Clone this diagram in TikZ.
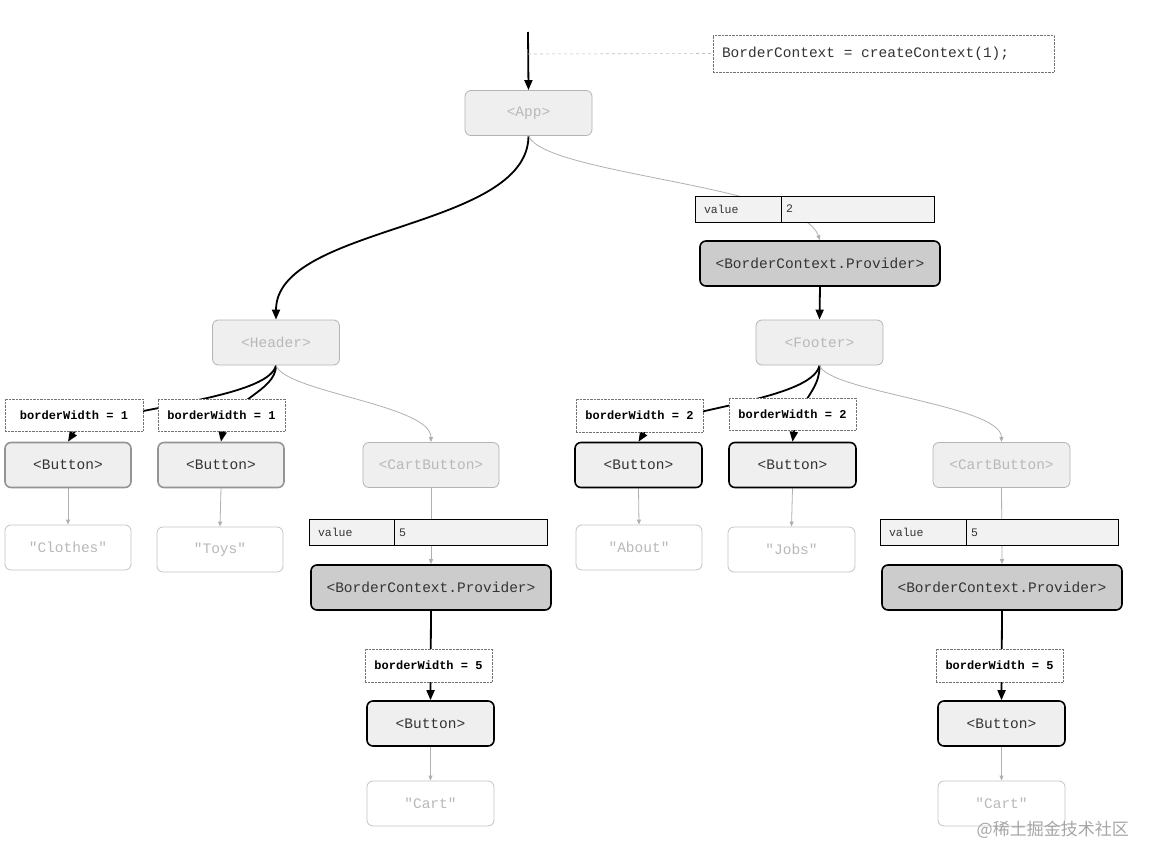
\documentclass[tikz,border=0pt]{standalone}
\usepackage{fontspec}
\setmonofont{Liberation Mono}
\newfontfamily\cjk{Noto Sans CJK SC}
\usetikzlibrary{arrows.meta}
\newcommand\msp{\hspace*{0.6em}}
\definecolor{nfill}{HTML}{EFEFEF}
\definecolor{fborder}{HTML}{B4B4B4}
\definecolor{ftext}{HTML}{B8B8B8}
\definecolor{dtext}{HTML}{333333}
\definecolor{pfill}{HTML}{CCCCCC}
\definecolor{vfill}{HTML}{F2F2F2}
\definecolor{sborder}{HTML}{C4C4C4}
\definecolor{gline}{HTML}{B0B0B0}
\pgfdeclarelayer{background}
\pgfsetlayers{background,main}
\begin{document}
\begin{tikzpicture}[x=1pt,y=-1pt,
  mono/.style={font=\ttfamily\fontsize{14.5}{16}\selectfont},
  box/.style={mono, draw, rounded corners=6pt, inner sep=0pt, minimum width=127pt, minimum height=45pt},
  faint/.style={box, fill=nfill, draw=fborder, text=ftext, line width=0.8pt},
  strbox/.style={box, fill=white, draw=sborder, text=ftext, line width=0.8pt},
  btngrey/.style={box, fill=nfill, draw=black!42, text=dtext, line width=1.6pt},
  btnbold/.style={box, fill=nfill, draw=black, text=dtext, line width=1.6pt},
  provbox/.style={box, fill=pfill, draw=black, text=dtext, line width=1.6pt, minimum width=240pt},
  lblbox/.style={draw=black!55, densely dotted, fill=white, text=black, inner sep=0pt, minimum width=127pt, minimum height=32pt, font=\ttfamily\bfseries\fontsize{12}{13}\selectfont},
  cellL/.style={draw=black, fill=vfill, text=dtext, line width=0.8pt, minimum height=26pt, inner ysep=0pt, inner xsep=9pt, text width=68pt, align=left, font=\ttfamily\fontsize{11.5}{13}\selectfont},
  cellR/.style={draw=black, fill=vfill, text=dtext, line width=0.8pt, minimum height=26pt, inner ysep=0pt, inner xsep=5pt, text width=143pt, align=left, font=\ttfamily\fontsize{11.5}{13}\selectfont},
  thickarr/.style={draw=black, line width=1.8pt, -{Triangle[length=10pt,width=8pt]}},
  greyarr/.style={draw=gline, line width=0.8pt, -{Triangle[length=5pt,width=4pt]}},
  dashline/.style={draw=black!25, dashed, line width=0.6pt}
]
\useasboundingbox (0,0) rectangle (1152,864);

% top
\coordinate (top) at (528,32);
\coordinate (dsh) at (528,54);
\node[mono, draw=black!55, densely dotted, text=dtext, inner sep=0pt, minimum width=341pt, minimum height=37pt, inner xsep=9pt, text width=323pt, align=left] (ctx) at (883.5,53.5) {BorderContext\msp=\msp createContext(1);};
\node[faint] (app) at (528.5,113) {<App>};

% level 2
\node[faint] (header) at (276,342.5) {<Header>};
\node[cellL] (v1l) at (738,209) {value};
\node[cellR, minimum width=153pt] (v1r) at (857.5,209) {2};
\node[provbox] (prov1) at (820,263.5) {<BorderContext.Provider>};
\node[faint] (footer) at (819.5,342.5) {<Footer>};

% header children
\node[lblbox, minimum width=138pt] (l1) at (74,415) {borderWidth\msp=\msp 1};
\node[lblbox] (l2) at (221.5,415) {borderWidth\msp=\msp 1};
\node[btngrey, minimum width=126pt] (b1) at (68,465) {<Button>};
\node[btngrey, minimum width=126pt] (b2) at (221,465) {<Button>};
\node[faint, minimum width=136pt] (c1) at (431,465) {<CartButton>};
\node[strbox, minimum width=126pt] (s1) at (68,547.5) {"Clothes"};
\node[strbox, minimum width=126pt] (s2) at (220,549.5) {"Toys"};
\node[cellL, text width=67pt] (v2l) at (351.5,532.5) {value};
\node[cellR] (v2r) at (470.5,532.5) {5};
\node[provbox] (prov2) at (431,587.5) {<BorderContext.Provider>};
\node[lblbox, minimum height=33pt] (l3) at (428.5,665.5) {borderWidth\msp=\msp 5};
\node[btnbold] (b3) at (430.5,723.5) {<Button>};
\node[strbox] (s3) at (430.5,803.5) {"Cart"};

% footer children
\node[lblbox, minimum height=33pt] (l4) at (639.5,415.5) {borderWidth\msp=\msp 2};
\node[lblbox] (l5) at (792.5,414) {borderWidth\msp=\msp 2};
\node[btnbold] (b4) at (638.5,465) {<Button>};
\node[btnbold] (b5) at (792.5,465) {<Button>};
\node[faint, minimum width=137pt] (c2) at (1001.5,465) {<CartButton>};
\node[strbox, minimum width=126pt] (s4) at (639,547.5) {"About"};
\node[strbox] (s5) at (791.5,549.5) {"Jobs"};
\node[cellL] (v3l) at (923,532.5) {value};
\node[cellR, text width=142pt] (v3r) at (1042,532.5) {5};
\node[provbox] (prov3) at (1002,587.5) {<BorderContext.Provider>};
\node[lblbox, minimum height=33pt] (l6) at (999.5,665.5) {borderWidth\msp=\msp 5};
\node[btnbold] (b6) at (1001.5,723.5) {<Button>};
\node[strbox] (s6) at (1001.5,803.5) {"Cart"};

% watermark
\node[font=\cjk\fontsize{17}{19}\selectfont, text=black!35, anchor=east, inner sep=0pt] (wm) at (1129,830) {@稀土掘金技术社区};

\begin{pgfonlayer}{background}
\fill[white] (0,0) rectangle (1152,864);
\draw[thickarr] (top) -- (app.north);
\draw[dashline] (dsh) -- (ctx.west);
\draw[thickarr] (app.south) .. controls (528,230) and (276,225) .. (header.north);
\draw[greyarr] (app.south) .. controls (545,175) and (800,185) .. (prov1.north);
\draw[thickarr] (prov1.south) -- (footer.north);
% header
\draw[thickarr] (header.south) .. controls (268,402) and (88,410) .. (b1.north);
\draw[thickarr] (header.south) .. controls (276,392) and (228,400) .. (b2.north);
\draw[greyarr] (header.south) .. controls (285,392) and (431,405) .. (c1.north);
\draw[greyarr] (b1.south) -- (s1.north);
\draw[greyarr] (b2.south) -- (s2.north);
\draw[greyarr] (c1.south) -- (prov2.north);
\draw[thickarr] (prov2.south) -- (b3.north);
\draw[greyarr] (b3.south) -- (s3.north);
% footer
\draw[thickarr] (footer.south) .. controls (812,402) and (658,410) .. (b4.north);
\draw[thickarr] (footer.south) .. controls (820,392) and (798,400) .. (b5.north);
\draw[greyarr] (footer.south) .. controls (829,392) and (1001,405) .. (c2.north);
\draw[greyarr] (b4.south) -- (s4.north);
\draw[greyarr] (b5.south) -- (s5.north);
\draw[greyarr] (c2.south) -- (prov3.north);
\draw[thickarr] (prov3.south) -- (b6.north);
\draw[greyarr] (b6.south) -- (s6.north);
\end{pgfonlayer}
\end{tikzpicture}
\end{document}
